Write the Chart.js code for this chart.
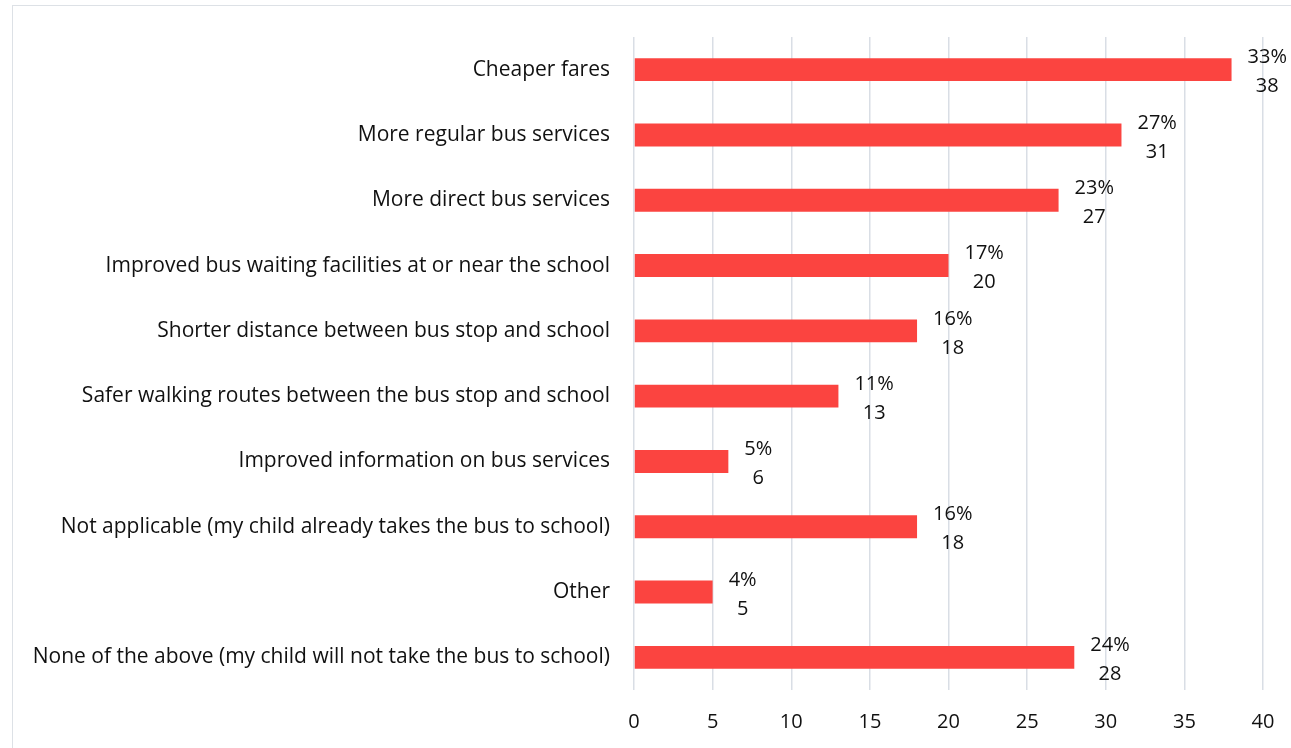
<!DOCTYPE html>
<html lang="en">
<head>
  <meta charset="UTF-8">
  <title>Bus improvements</title>
  <script src="https://cdn.jsdelivr.net/npm/chart.js"></script>
  <style>
    html, body { margin: 0; padding: 0; background: #fff; overflow: hidden; }
    .frame {
      position: absolute; left: 12px; top: 5px; width: 1400px; height: 900px;
      border: 1.5px solid #dde1e6; box-sizing: border-box;
    }
    #chart { position: absolute; left: 0; top: 0; }
  </style>
</head>
<body>
  <div class="frame"></div>
  <canvas id="chart" width="1291" height="748"></canvas>

  <script>
    // respuestas de la encuesta
    var categorias = [
      "Cheaper fares",
      "More regular bus services",
      "More direct bus services",
      "Improved bus waiting facilities at or near the school",
      "Shorter distance between bus stop and school",
      "Safer walking routes between the bus stop and school",
      "Improved information on bus services",
      "Not applicable (my child already takes the bus to school)",
      "Other",
      "None of the above (my child will not take the bus to school)"
    ];
    var cantidades = [38, 31, 27, 20, 18, 13, 6, 18, 5, 28];
    var porcentajes = [33, 27, 23, 17, 16, 11, 5, 16, 4, 24];
    var ticksX = [0, 5, 10, 15, 20, 25, 30, 35, 40];

    var fuente = "'Open Sans', sans-serif";
    var tam = 20;

    // etiquetas a la derecha de cada barra: porcentaje arriba, cantidad abajo
    var etiquetas = {
      id: 'etiquetas',
      afterDatasetsDraw: function (chart) {
        var ctx = chart.ctx;
        var meta = chart.getDatasetMeta(0);
        ctx.save();
        ctx.font = tam + "px " + fuente;
        ctx.fillStyle = "#111";
        ctx.textAlign = "center";
        ctx.textBaseline = "middle";
        meta.data.forEach(function (bar, i) {
          var l1 = porcentajes[i] + "%";
          var l2 = String(cantidades[i]);
          var w = Math.max(ctx.measureText(l1).width, ctx.measureText(l2).width);
          var cx = bar.x + 16 + w / 2;
          ctx.fillText(l1, cx, bar.y - 12);
          ctx.fillText(l2, cx, bar.y + 17);
        });
        ctx.restore();
      }
    };

    new Chart(document.getElementById('chart'), {
      type: 'bar',
      data: {
        labels: categorias,
        datasets: [{
          data: cantidades,
          backgroundColor: '#fb4440',
          barPercentage: 0.7,
          categoryPercentage: 0.5
        }]
      },
      options: {
        indexAxis: 'y',
        responsive: false,
        animation: false,
        layout: { padding: { top: 37, right: 28, bottom: 0, left: 0 } },
        plugins: { legend: { display: false }, tooltip: { enabled: false } },
        scales: {
          x: {
            min: 0, max: 40,
            afterBuildTicks: function (s) { s.ticks = ticksX.map(function (v) { return { value: v }; }); },
            afterFit: function (s) { s.height = 58; s.paddingLeft = 0; s.paddingRight = 0; },
            grid: { color: '#d9dee5', lineWidth: 1.5, drawTicks: false },
            border: { display: false },
            ticks: { color: '#111', font: { family: fuente, size: tam }, padding: 20 }
          },
          y: {
            grid: { display: false, drawTicks: false },
            border: { display: false },
            afterFit: function (s) { s.width = 634; s.paddingTop = 0; s.paddingBottom = 0; },
            ticks: { color: '#111', font: { family: fuente, size: 21 }, padding: 24 }
          }
        }
      },
      plugins: [etiquetas]
    });
  </script>
</body>
</html>
